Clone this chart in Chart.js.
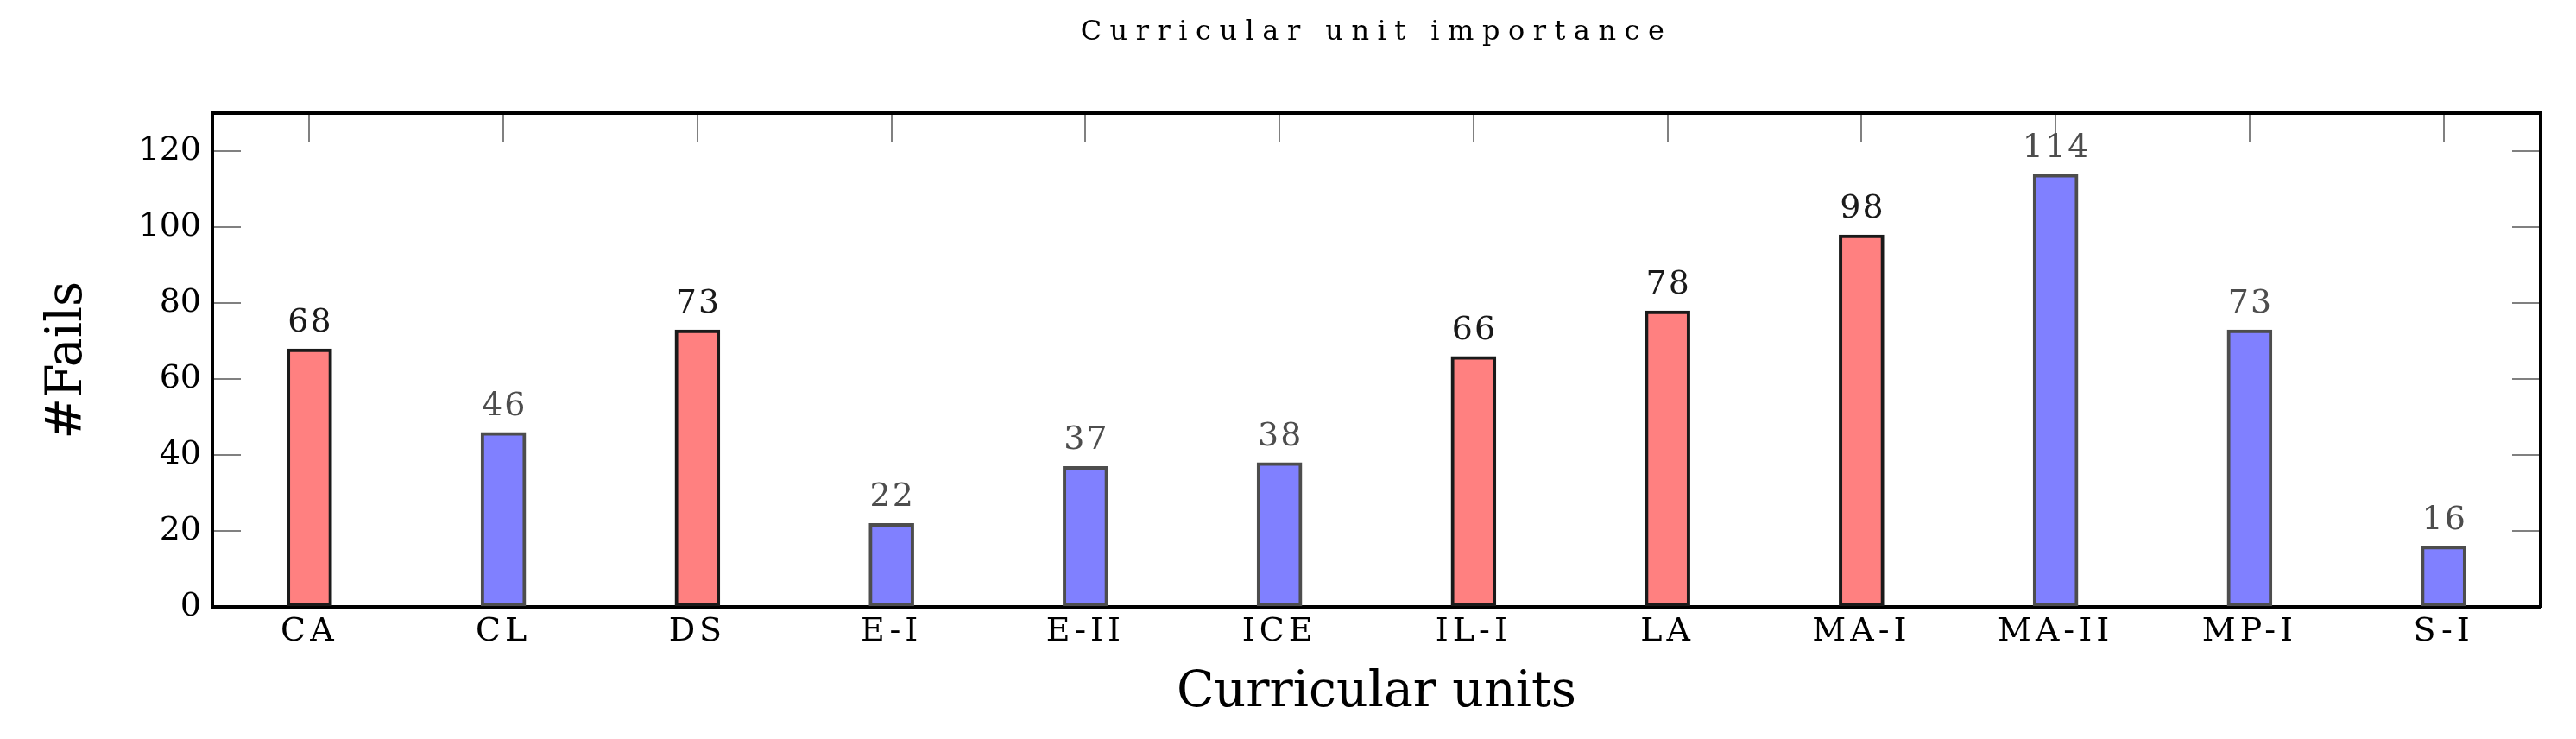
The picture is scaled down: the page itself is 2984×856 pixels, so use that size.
<!DOCTYPE html>
<html>
<head>
<meta charset="utf-8">
<script src="https://cdn.jsdelivr.net/npm/chart.js@4/dist/chart.umd.min.js"></script>
<style>
  html, body { margin: 0; padding: 0; background: #ffffff; }
  #wrap { width: 2984px; height: 856px; }
</style>
</head>
<body>
<div id="wrap"><canvas id="c" width="2984" height="856"></canvas></div>
<script>
// ---- data ----
const categories = ['CA', 'CL', 'DS', 'E-I', 'E-II', 'ICE', 'IL-I', 'LA', 'MA-I', 'MA-II', 'MP-I', 'S-I'];
const redSeries  = [68, null, 73, null, null, null, 66, 78, 98, null, null, null];
const blueSeries = [null, 46, null, 22, 37, 38, null, null, null, 114, 73, 16];
const yTicksMin = 0;
const yTicksMax = 130;
const yTickStep = 20;
const chartTitle = 'Curricular unit importance';
const xTitle = 'Curricular units';
const yTitle = '#Fails';

const SERIF = '"DejaVu Serif", serif';

// value labels above bars
const valueLabels = {
  id: 'valueLabels',
  afterDatasetsDraw(chart) {
    const ctx = chart.ctx;
    chart.data.datasets.forEach((ds, di) => {
      const meta = chart.getDatasetMeta(di);
      meta.data.forEach((el, i) => {
        const v = ds.data[i];
        if (v === null || v === undefined) return;
        ctx.save();
        ctx.font = '38px ' + SERIF;
        ctx.letterSpacing = '2px';
        ctx.fillStyle = ds.borderColor;
        ctx.textAlign = 'center';
        ctx.textBaseline = 'alphabetic';
        ctx.fillText(String(v), el.x + 1, el.y - 20);
        ctx.restore();
      });
    });
  }
};

function wrapSpacing(obj, method, spacing) {
  if (!obj || obj['_sp_' + method]) return;
  const orig = obj[method];
  obj[method] = function (...args) {
    const ctx = this.ctx;
    const prev = ctx.letterSpacing;
    ctx.letterSpacing = spacing;
    orig.apply(this, args);
    ctx.letterSpacing = prev || '0px';
  };
  obj['_sp_' + method] = true;
}

// spaced-out lettering like the reference
const letterSpacingPlugin = {
  id: 'letterSpacingPlugin',
  beforeDraw(chart) {
    wrapSpacing(chart.titleBlock, 'draw', '9.5px');
    wrapSpacing(chart.scales.x, 'drawLabels', '5px');
  }
};

const tickGray = '#808080';

new Chart(document.getElementById('c'), {
  type: 'bar',
  data: {
    labels: categories,
    datasets: [
      {
        data: redSeries,
        backgroundColor: '#ff8080',
        borderColor: '#1a1a1a',
        borderWidth: 4,
        borderSkipped: false,
        barThickness: 52,
        grouped: false
      },
      {
        data: blueSeries,
        backgroundColor: '#8080ff',
        borderColor: '#4d4d4d',
        borderWidth: 4,
        borderSkipped: false,
        barThickness: 52,
        grouped: false
      }
    ]
  },
  options: {
    responsive: false,
    animation: false,
    devicePixelRatio: 1,
    layout: { padding: 0 },
    plugins: {
      legend: { display: false },
      tooltip: { enabled: false },
      title: {
        display: true,
        text: chartTitle,
        fullSize: false,
        color: '#000000',
        font: { family: SERIF, size: 32, weight: 'normal', lineHeight: 1.2 },
        padding: { top: 18, bottom: 75 }
      }
    },
    scales: {
      x: {
        type: 'category',
        position: 'bottom',
        offset: true,
        grid: { display: true, drawOnChartArea: false, drawTicks: false },
        border: { display: true, color: '#000000', width: 4 },
        ticks: {
          color: '#000000',
          font: { family: SERIF, size: 38 },
          padding: 6,
          maxRotation: 0,
          autoSkip: false
        },
        title: {
          display: true,
          text: xTitle,
          color: '#000000',
          font: { family: SERIF, size: 57, lineHeight: 1.2 },
          padding: { top: 0, bottom: 19 }
        },
        afterFit(scale) { scale.height = 153; }
      },
      x2: {
        type: 'category',
        position: 'top',
        labels: categories,
        offset: true,
        grid: {
          display: true,
          offset: false,
          drawOnChartArea: false,
          drawTicks: true,
          tickLength: -33,
          color: tickGray,
          lineWidth: 2
        },
        border: { display: true, color: '#000000', width: 4 },
        ticks: { display: false },
        afterFit(scale) { scale.height = 0; }
      },
      y: {
        type: 'linear',
        position: 'left',
        min: yTicksMin,
        max: yTicksMax,
        grid: {
          display: true,
          drawOnChartArea: false,
          drawTicks: true,
          tickLength: -33,
          color: tickGray,
          lineWidth: 2
        },
        border: { display: true, color: '#000000', width: 4 },
        ticks: {
          stepSize: yTickStep,
          includeBounds: false,
          color: '#000000',
          font: { family: SERIF, size: 38 },
          padding: 46
        },
        title: {
          display: true,
          text: yTitle,
          color: '#000000',
          font: { family: SERIF, size: 57, lineHeight: 1.2 },
          padding: { top: 45, bottom: 0 }
        },
        afterFit(scale) { scale.width = 246; }
      },
      y2: {
        type: 'linear',
        position: 'right',
        min: yTicksMin,
        max: yTicksMax,
        grid: {
          display: true,
          drawOnChartArea: false,
          drawTicks: true,
          tickLength: -33,
          color: tickGray,
          lineWidth: 2
        },
        border: { display: true, color: '#000000', width: 4 },
        ticks: { display: false, stepSize: yTickStep, includeBounds: false },
        afterFit(scale) { scale.width = 41; }
      }
    }
  },
  plugins: [valueLabels, letterSpacingPlugin]
});
</script>
</body>
</html>
